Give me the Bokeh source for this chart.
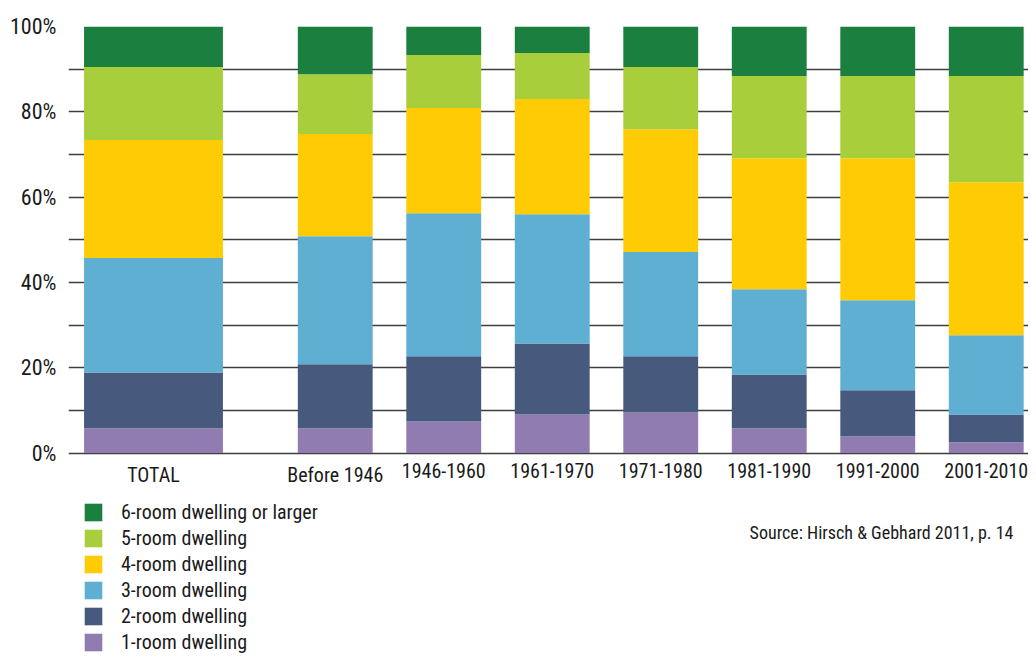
from bokeh.plotting import figure
from bokeh.models import (ColumnDataSource, FixedTicker, Range1d, Legend, LegendItem, Label)
from bokeh.core.properties import value
from bokeh.embed import file_html
from bokeh.resources import INLINE

# ---- data ----
categories = ["TOTAL", "Before 1946", "1946-1960", "1961-1970", "1971-1980",
              "1981-1990", "1991-2000", "2001-2010"]
room1 = [5.8, 5.8, 7.4, 9.0, 9.5, 5.8, 3.9, 2.5]
room2 = [13.1, 15.0, 15.3, 16.7, 13.2, 12.6, 10.8, 6.5]
room3 = [26.8, 30.0, 33.5, 30.3, 24.4, 20.0, 21.1, 18.6]
room4 = [27.7, 24.0, 24.7, 27.0, 28.8, 30.7, 33.3, 35.9]
room5 = [17.1, 14.0, 12.4, 10.8, 14.6, 19.3, 19.3, 24.9]
room6 = [9.5, 11.2, 6.7, 6.2, 9.5, 11.6, 11.6, 11.6]
series_labels = ["1-room dwelling", "2-room dwelling", "3-room dwelling",
                 "4-room dwelling", "5-room dwelling", "6-room dwelling or larger"]
y_ticks = [0, 20, 40, 60, 80, 100]
y_tick_labels = ["0%", "20%", "40%", "60%", "80%", "100%"]
source_text = "Source: Hirsch & Gebhard 2011, p. 14"

colors = ["#917cb1", "#475a7e", "#5eafd1", "#ffcb05", "#a8ce3b", "#1a7f3f"]
FONT = "'Roboto Condensed', 'DejaVu Sans Condensed', 'Liberation Sans Narrow', Roboto, sans-serif"
TXT = "#1a1a1a"

# layout positions (total bar, gap, then periods)
xpos = [0.0] + [1.675 + i for i in range(len(categories) - 1)]
widths = [1.28] + [0.69] * (len(categories) - 1)

# plot area extends below the bars to hold labels, legend and source note
LEFT, TOP = 68, 26
FIG_W, FIG_H = 1028, 654
FRAME_W = FIG_W - LEFT
FRAME_H = FIG_H - TOP
PX_PER_X = 108.5
PX_PER_UNIT = 426.5 / 100.0
x_left = -85.0 / PX_PER_X
x_right = x_left + FRAME_W / PX_PER_X
y_bottom = -(FRAME_H - 426.5) / PX_PER_UNIT

keys = ["r1", "r2", "r3", "r4", "r5", "r6"]
src = ColumnDataSource(dict(x=xpos, w=widths, r1=room1, r2=room2, r3=room3,
                            r4=room4, r5=room5, r6=room6,
                            y0=[0] * len(categories), cat=categories))

p = figure(frame_width=FRAME_W, frame_height=FRAME_H, output_backend="svg",
           toolbar_location=None,
           x_range=Range1d(x_left, x_right), y_range=Range1d(y_bottom, 100),
           min_border_left=LEFT, min_border_right=0, min_border_top=TOP,
           min_border_bottom=0)
p.outline_line_color = None
p.background_fill_color = "white"
p.xaxis.visible = False

renderers = p.vbar_stack(keys, x="x", width="w", source=src, color=colors,
                         line_color=None)

# category labels under the bars
p.text(x="x", y="y0", text="cat", source=src, y_offset=10, text_align="center",
       text_baseline="top", text_font=value(FONT), text_font_size="20px",
       text_color=TXT)

# y axis
p.yaxis.ticker = FixedTicker(ticks=y_ticks)
p.yaxis.major_label_overrides = {t: l for t, l in zip(y_ticks, y_tick_labels)}
p.yaxis.axis_line_color = None
p.yaxis.major_tick_line_color = None
p.yaxis.minor_tick_line_color = None
p.yaxis.major_label_text_font = FONT
p.yaxis.major_label_text_font_size = "22px"
p.yaxis.major_label_text_color = TXT
p.yaxis.major_label_standoff = 6

p.xgrid.grid_line_color = None
p.ygrid.ticker = FixedTicker(ticks=list(range(0, 101, 10)))
p.ygrid.grid_line_color = "#3f3f3f"
p.ygrid.grid_line_width = 1.5

# legend (top item = largest dwelling)
items = [LegendItem(label=lab, renderers=[r]) for lab, r in zip(series_labels, renderers)][::-1]
legend = Legend(items=items, location=(14, 0), orientation="vertical",
                glyph_width=22, glyph_height=22, spacing=2, padding=0, margin=0,
                label_standoff=17, label_text_font=FONT, label_text_font_size="20px",
                label_text_color=TXT, border_line_color=None,
                background_fill_alpha=0, label_height=22)
p.add_layout(legend)

src_label = Label(x=945, y=122, x_units="screen", y_units="screen", text=source_text,
                  text_align="right", text_baseline="alphabetic", text_font=FONT,
                  text_font_size="18px", text_color=TXT)
p.add_layout(src_label)

open("out.html", "w").write(file_html(p, INLINE))
